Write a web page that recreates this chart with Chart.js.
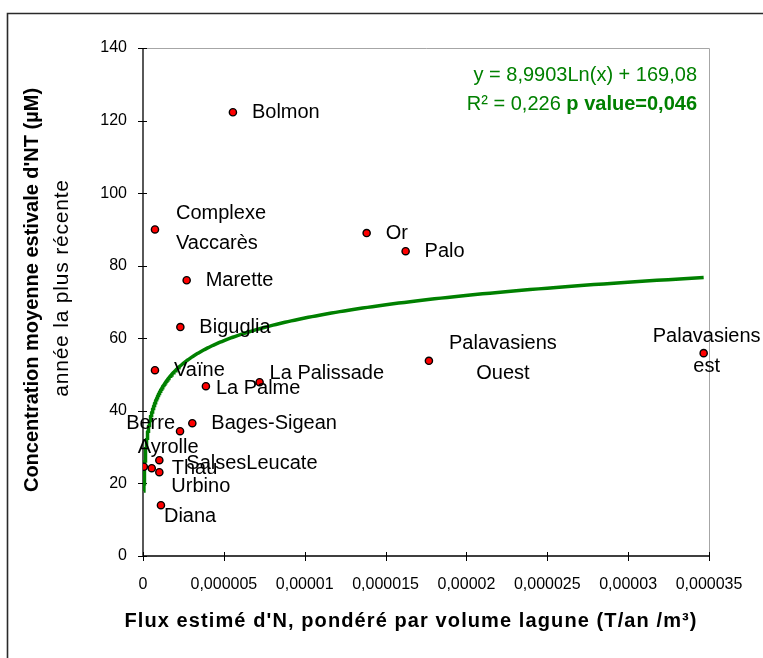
<!DOCTYPE html>
<html>
<head>
<meta charset="utf-8">
<script src="https://cdn.jsdelivr.net/npm/chart.js@4.4.0/dist/chart.umd.min.js"></script>
<style>
  html, body { margin: 0; padding: 0; background: #fff; }
  canvas { display: block; }
</style>
</head>
<body>
<canvas id="chart" width="763" height="658"></canvas>
<script>
// Lagoons: estimated N flux per lagoon volume vs. mean summer total nitrogen
const sites = ['Bolmon', 'Complexe\nVaccarès', 'Marette', 'Biguglia', 'Vaïne', 'La Palme',
  'La Palissade', 'Bages-Sigean', 'Berre', 'Ayrolle', 'Thau', 'SalsesLeucate', 'Urbino',
  'Diana', 'Or', 'Palo', 'Palavasiens\nOuest', 'Palavasiens\nest'];
const fluxN = [0.00000556, 0.00000074, 0.0000027, 0.00000231, 0.00000074, 0.00000389,
  0.00000721, 0.00000305, 0.00000229, 0.00000005, 0.00000054, 0.00000101, 0.00000101,
  0.00000111, 0.00001383, 0.00001624, 0.00001768, 0.00003467];
const ntConc = [122.3, 90.0, 76.0, 63.1, 51.2, 46.8, 47.9, 36.6, 34.4, 24.6, 24.2, 26.4,
  23.1, 14.0, 89.0, 84.0, 53.8, 55.9];

const xTickValues = [0, 0.000005, 0.00001, 0.000015, 0.00002, 0.000025, 0.00003, 0.000035];
const xTickLabels = ['0', '0,000005', '0,00001', '0,000015', '0,00002', '0,000025', '0,00003', '0,000035'];
const yTickValues = [0, 20, 40, 60, 80, 100, 120, 140];
const yTickLabels = ['0', '20', '40', '60', '80', '100', '120', '140'];

// Logarithmic fit: y = a·ln(x) + b
const trendSlope = 8.9903;
const trendIntercept = 169.08;
const equationText = 'y = 8,9903Ln(x) + 169,08';
const r2Text = 'R² = 0,226 ';
const pValueText = 'p value=0,046';

const xTitle = "Flux estimé d'N, pondéré par volume lagune (T/an /m³)";
const yTitle = "Concentration moyenne estivale d'NT (µM)";
const ySubtitle = 'année la plus récente';

// Where each site name sits relative to its marker (pixels) and how it is aligned
const labelPlacement = {
  'Bolmon': { dx: 19, dy: 0, align: 'left' },
  'Complexe\nVaccarès': { dx: 21, dy: -1, align: 'left' },
  'Marette': { dx: 19, dy: 0, align: 'left' },
  'Biguglia': { dx: 19, dy: 0, align: 'left' },
  'Vaïne': { dx: 19, dy: 0, align: 'left' },
  'La Palme': { dx: 10, dy: 2, align: 'left' },
  'La Palissade': { dx: 10, dy: -9, align: 'left' },
  'Bages-Sigean': { dx: 19, dy: 0, align: 'left' },
  'Berre': { dx: -5, dy: -8, align: 'right' },
  'Ayrolle': { dx: -6, dy: -19, align: 'left' },
  'Thau': { dx: 20, dy: 0, align: 'left' },
  'SalsesLeucate': { dx: 27, dy: 3, align: 'left' },
  'Urbino': { dx: 12, dy: 14, align: 'left' },
  'Diana': { dx: 3, dy: 11, align: 'left' },
  'Or': { dx: 19, dy: 0, align: 'left' },
  'Palo': { dx: 19, dy: 0, align: 'left' },
  'Palavasiens\nOuest': { dx: 74, dy: -2, align: 'center' },
  'Palavasiens\nest': { dx: 3, dy: -2, align: 'center' }
};

const FONT = "'Liberation Sans', Arial, sans-serif";

const points = fluxN.map((x, i) => ({ x: x, y: ntConc[i] }));

// Fitted curve sampled over the observed flux range
const xMin = Math.min(...fluxN.filter(v => v > 0));
const xMax = Math.max(...fluxN);
const trendPoints = [];
const nSamples = 300;
for (let i = 0; i <= nSamples; i++) {
  const x = xMin * Math.pow(xMax / xMin, i / nSamples);
  trendPoints.push({ x: x, y: trendSlope * Math.log(x) + trendIntercept });
}

const decorPlugin = {
  id: 'decor',
  beforeDraw(chart) {
    const ctx = chart.ctx;
    ctx.save();
    // outer frame
    ctx.strokeStyle = '#2a2a2a';
    ctx.lineWidth = 1.6;
    ctx.beginPath();
    ctx.moveTo(7.5, 658);
    ctx.lineTo(7.5, 13.5);
    ctx.lineTo(763, 13.5);
    ctx.stroke();
    ctx.restore();
  },
  beforeDatasetsDraw(chart) {
    const { ctx, chartArea: a, scales } = chart;
    ctx.save();
    // light top/right plot border
    ctx.strokeStyle = '#a6a6a6';
    ctx.lineWidth = 1;
    ctx.beginPath();
    ctx.moveTo(a.left, a.top + 0.5);
    ctx.lineTo(a.right + 0.5, a.top + 0.5);
    ctx.lineTo(a.right + 0.5, a.bottom);
    ctx.stroke();
    // axes
    ctx.strokeStyle = '#000';
    ctx.lineWidth = 1.3;
    ctx.beginPath();
    ctx.moveTo(a.left, a.top);
    ctx.lineTo(a.left, a.bottom);
    ctx.lineTo(a.right, a.bottom);
    ctx.stroke();
    // cross tick marks
    ctx.lineWidth = 1;
    ctx.beginPath();
    xTickValues.forEach(v => {
      const x = Math.round(scales.x.getPixelForValue(v)) + 0.5;
      ctx.moveTo(x, a.bottom - 4);
      ctx.lineTo(x, a.bottom + 5);
    });
    yTickValues.forEach(v => {
      const y = Math.round(scales.y.getPixelForValue(v)) + 0.5;
      ctx.moveTo(a.left - 5, y);
      ctx.lineTo(a.left + 4, y);
    });
    ctx.stroke();
    ctx.restore();
  },
  afterDatasetsDraw(chart) {
    const ctx = chart.ctx;
    const meta = chart.getDatasetMeta(1);
    ctx.save();
    ctx.fillStyle = '#000';
    ctx.font = '20px ' + FONT;
    ctx.textBaseline = 'middle';
    sites.forEach((name, i) => {
      const el = meta.data[i];
      const p = labelPlacement[name];
      const lines = name.split('\n');
      ctx.textAlign = p.align;
      const lh = 30;
      const y0 = el.y + p.dy - (lines.length - 1) * lh / 2;
      lines.forEach((ln, k) => ctx.fillText(ln, el.x + p.dx, y0 + k * lh));
    });

    // fit equation
    ctx.fillStyle = '#008000';
    ctx.textAlign = 'right';
    ctx.font = '20px ' + FONT;
    ctx.fillText(equationText, 697, 75);
    ctx.font = 'bold 20px ' + FONT;
    const bw = ctx.measureText(pValueText).width;
    ctx.fillText(pValueText, 697, 104);
    ctx.font = '20px ' + FONT;
    ctx.fillText(r2Text, 697 - bw, 104);

    // axis titles
    ctx.fillStyle = '#000';
    ctx.textAlign = 'center';
    ctx.font = 'bold 20px ' + FONT;
    ctx.letterSpacing = '1.1px';
    ctx.fillText(xTitle, 411, 621);
    ctx.letterSpacing = '0px';
    ctx.translate(32, 290);
    ctx.rotate(-Math.PI / 2);
    ctx.fillText(yTitle, 0, 0);
    ctx.font = '21px ' + FONT;
    ctx.letterSpacing = '0.8px';
    ctx.fillText(ySubtitle, 2, 30);
    ctx.restore();
  }
};

new Chart(document.getElementById('chart'), {
  type: 'scatter',
  data: {
    datasets: [
      {
        label: 'Log. (NT)',
        data: trendPoints,
        showLine: true,
        borderColor: '#008000',
        borderWidth: 3.5,
        pointRadius: 0,
        tension: 0,
        fill: false,
        order: 2
      },
      {
        label: 'NT',
        data: points,
        pointRadius: 3.6,
        pointBackgroundColor: '#ff0000',
        pointBorderColor: '#000',
        pointBorderWidth: 1.4,
        order: 1
      }
    ]
  },
  options: {
    responsive: false,
    animation: false,
    events: [],
    layout: { padding: { left: 0, right: 54, top: 48, bottom: 0 } },
    plugins: { legend: { display: false }, tooltip: { enabled: false } },
    scales: {
      x: {
        type: 'linear',
        min: 0,
        max: 0.000035,
        afterFit(s) { s.height = 102; },
        afterBuildTicks(s) { s.ticks = xTickValues.map(v => ({ value: v })); },
        grid: { display: false },
        border: { display: false },
        ticks: {
          autoSkip: false,
          maxRotation: 0,
          padding: 11,
          color: '#000',
          font: { family: FONT, size: 16 },
          callback: (v, i) => xTickLabels[i]
        }
      },
      y: {
        type: 'linear',
        min: 0,
        max: 140,
        afterFit(s) { s.width = 143; },
        afterBuildTicks(s) { s.ticks = yTickValues.map(v => ({ value: v })); },
        grid: { display: false },
        border: { display: false },
        ticks: {
          padding: 8,
          color: '#000',
          font: { family: FONT, size: 16 },
          callback: (v, i) => yTickLabels[i]
        }
      }
    }
  },
  plugins: [decorPlugin]
});
</script>
</body>
</html>
